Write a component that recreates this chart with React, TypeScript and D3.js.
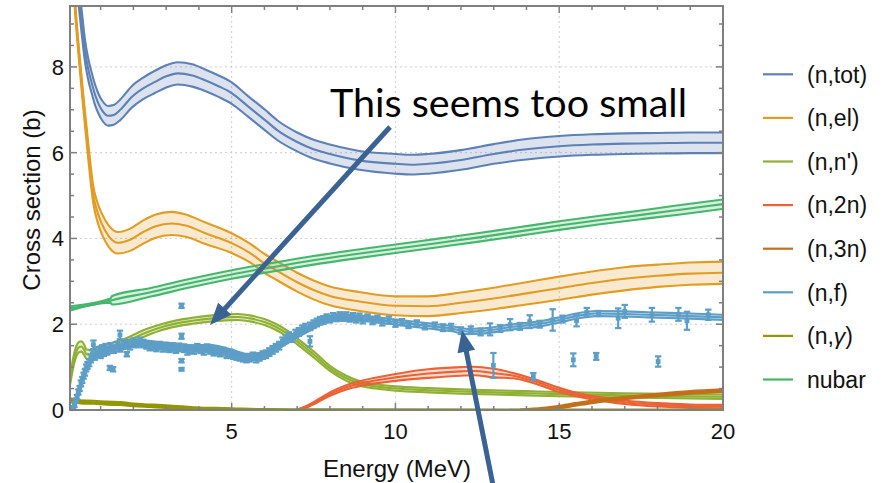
import React from 'react';
import * as d3 from 'd3';

// ---- evaluated cross sections (MeV, barns) ----
const totE = [0.07, 0.2, 0.3, 0.37, 0.45, 0.52, 0.62, 0.73, 0.83, 0.93, 1.05, 1.23, 1.4, 1.6, 1.95, 2.3, 2.66, 3.0, 3.36, 3.8, 4.19, 4.6, 5.0, 5.5, 6.02, 6.4, 7.0, 7.5, 8.0, 8.9, 10.0, 10.5, 11.0, 12.0, 13.0, 14.0, 15.0, 16.0, 17.0, 18.0, 19.0, 20.0];
const totXS = [13.0, 11.0, 10.0, 9.42, 8.85, 8.39, 7.95, 7.62, 7.35, 7.15, 6.98, 6.86, 6.88, 7.0, 7.3, 7.5, 7.65, 7.78, 7.85, 7.8, 7.69, 7.55, 7.39, 7.08, 6.76, 6.52, 6.25, 6.08, 5.97, 5.82, 5.74, 5.72, 5.74, 5.83, 5.97, 6.08, 6.15, 6.19, 6.21, 6.22, 6.23, 6.23];
const totUnc = [0.3, 0.3, 0.3, 0.28, 0.27, 0.26, 0.25, 0.24, 0.24, 0.23, 0.23, 0.23, 0.23, 0.24, 0.25, 0.25, 0.26, 0.26, 0.26, 0.26, 0.25, 0.25, 0.25, 0.24, 0.24, 0.23, 0.22, 0.22, 0.22, 0.22, 0.23, 0.23, 0.23, 0.23, 0.23, 0.24, 0.24, 0.24, 0.24, 0.24, 0.24, 0.24];

const elE = [0.07, 0.15, 0.22, 0.35, 0.47, 0.62, 0.78, 0.9, 1.03, 1.25, 1.53, 1.9, 2.3, 2.66, 3.17, 3.6, 4.2, 5.0, 5.56, 6.0, 6.4, 7.0, 7.5, 8.0, 8.9, 10.0, 11.0, 12.0, 13.0, 14.0, 15.0, 16.0, 17.0, 18.0, 19.0, 20.0];
const elXS = [12.5, 10.3, 9.42, 8.2, 7.2, 6.06, 5.0, 4.62, 4.35, 4.05, 3.9, 3.97, 4.15, 4.28, 4.35, 4.3, 4.12, 3.89, 3.66, 3.42, 3.24, 2.98, 2.8, 2.66, 2.53, 2.43, 2.42, 2.5, 2.6, 2.72, 2.84, 2.96, 3.06, 3.13, 3.18, 3.2];
const elUnc = [0.12, 0.12, 0.13, 0.14, 0.16, 0.18, 0.2, 0.22, 0.24, 0.25, 0.25, 0.26, 0.27, 0.27, 0.27, 0.26, 0.25, 0.23, 0.22, 0.22, 0.22, 0.22, 0.22, 0.22, 0.22, 0.22, 0.23, 0.24, 0.25, 0.26, 0.27, 0.27, 0.27, 0.26, 0.26, 0.26];

const nnpE = [0.07, 0.15, 0.25, 0.35, 0.42, 0.5, 0.57, 0.68, 0.8, 0.98, 1.4, 1.8, 2.3, 2.8, 3.32, 3.8, 4.34, 4.8, 5.2, 5.6, 6.0, 6.37, 6.7, 7.0, 7.5, 8.0, 8.5, 9.0, 9.5, 10.0, 11.0, 12.0, 13.0, 14.0, 15.0, 17.0, 20.0];
const nnpXS = [0.7, 1.05, 1.35, 1.47, 1.48, 1.4, 1.3, 1.3, 1.35, 1.4, 1.5, 1.6, 1.78, 1.92, 2.02, 2.08, 2.13, 2.16, 2.17, 2.13, 2.05, 1.93, 1.78, 1.6, 1.3, 0.97, 0.74, 0.6, 0.54, 0.5, 0.46, 0.43, 0.41, 0.39, 0.37, 0.34, 0.31];
const nnpUnc = [0.1, 0.11, 0.12, 0.12, 0.12, 0.12, 0.11, 0.1, 0.1, 0.09, 0.08, 0.08, 0.08, 0.07, 0.07, 0.07, 0.07, 0.07, 0.07, 0.07, 0.07, 0.07, 0.07, 0.07, 0.07, 0.06, 0.06, 0.05, 0.05, 0.05, 0.05, 0.05, 0.05, 0.05, 0.05, 0.05, 0.05];

const n2nE = [7.0, 7.3, 7.6, 8.0, 8.5, 9.0, 10.0, 11.0, 12.0, 12.4, 13.0, 13.6, 14.2, 15.0, 15.7, 16.5, 17.0, 18.0, 19.0, 20.0];
const n2nXS = [0.0, 0.08, 0.2, 0.37, 0.53, 0.63, 0.76, 0.85, 0.9, 0.91, 0.86, 0.8, 0.68, 0.47, 0.33, 0.23, 0.18, 0.12, 0.09, 0.08];
const n2nUnc = [0.01, 0.02, 0.03, 0.04, 0.05, 0.06, 0.08, 0.1, 0.1, 0.1, 0.1, 0.06, 0.05, 0.05, 0.04, 0.04, 0.04, 0.04, 0.04, 0.04];

const n3nE = [13.8, 14.5, 15.0, 15.5, 16.0, 16.5, 17.0, 18.0, 19.0, 20.0];
const n3nXS = [0.0, 0.03, 0.07, 0.13, 0.19, 0.24, 0.28, 0.35, 0.41, 0.45];
const n3nUnc = [0.01, 0.02, 0.03, 0.03, 0.03, 0.03, 0.03, 0.03, 0.03, 0.03];

const nfE = [0.07, 0.2, 0.35, 0.5, 0.65, 0.8, 1.0, 1.4, 1.8, 2.3, 2.8, 3.3, 3.83, 4.34, 4.85, 5.2, 5.5, 6.0, 6.5, 7.0, 7.4, 7.8, 8.3, 8.9, 10.0, 11.0, 11.7, 12.2, 12.6, 13.6, 14.5, 15.0, 15.6, 16.1, 17.0, 17.7, 19.0, 20.0];
const nfXS = [0.0, 0.05, 0.45, 0.85, 1.1, 1.25, 1.32, 1.4, 1.5, 1.56, 1.52, 1.48, 1.45, 1.46, 1.38, 1.3, 1.24, 1.3, 1.52, 1.75, 1.92, 2.08, 2.15, 2.14, 2.05, 1.96, 1.9, 1.83, 1.84, 1.94, 2.02, 2.1, 2.2, 2.25, 2.24, 2.22, 2.19, 2.16];
const nfUnc = [0.02, 0.03, 0.05, 0.06, 0.06, 0.06, 0.06, 0.06, 0.06, 0.06, 0.06, 0.06, 0.06, 0.06, 0.06, 0.06, 0.06, 0.06, 0.06, 0.06, 0.06, 0.06, 0.06, 0.06, 0.06, 0.06, 0.06, 0.06, 0.06, 0.06, 0.06, 0.06, 0.06, 0.06, 0.06, 0.06, 0.06, 0.06];

const ngE = [0.07, 0.2, 0.4, 0.8, 1.2, 1.6, 2.0, 2.5, 3.0, 3.5, 4.0, 4.5, 5.0, 6.0, 8.0, 12.0, 20.0];
const ngXS = [0.24, 0.21, 0.19, 0.18, 0.16, 0.15, 0.12, 0.1, 0.08, 0.06, 0.04, 0.03, 0.02, 0.01, 0.005, 0.002, 0.001];
const ngUnc = [0.035, 0.035, 0.035, 0.035, 0.035, 0.035, 0.03, 0.03, 0.03, 0.025, 0.02, 0.02, 0.02, 0.01, 0.01, 0.01, 0.01];

const nubarE = [0.07, 1.3, 1.35, 2.5, 3.75, 5.0, 6.25, 7.5, 8.75, 10.0, 11.25, 12.5, 13.75, 15.0, 16.25, 17.5, 18.7, 20.0];
const nubarVal = [2.37, 2.55, 2.56, 2.74, 2.96, 3.16, 3.33, 3.49, 3.63, 3.76, 3.89, 4.02, 4.16, 4.3, 4.43, 4.55, 4.67, 4.8];
const nubarUnc = [0.05, 0.05, 0.1, 0.1, 0.1, 0.1, 0.1, 0.1, 0.1, 0.1, 0.1, 0.1, 0.1, 0.1, 0.1, 0.1, 0.11, 0.11];

// ---- measured fission cross section: [energy, value, error] ----
const nfMeasured: [number, number, number][] = [
  [0.12, 0.0, 0.04], [0.16, 0.05, 0.04], [0.2, 0.12, 0.05], [0.24, 0.22, 0.05], [0.28, 0.3, 0.05],
  [0.32, 0.42, 0.06], [0.36, 0.5, 0.06], [0.4, 0.62, 0.07], [0.44, 0.7, 0.07], [0.48, 0.8, 0.07],
  [0.52, 0.88, 0.08], [0.56, 0.98, 0.08], [0.6, 1.04, 0.08], [0.65, 1.1, 0.08], [0.7, 1.2, 0.09],
  [0.75, 1.3, 0.09], [0.78, 1.52, 0.1], [0.82, 1.25, 0.08], [0.88, 1.32, 0.09], [0.95, 1.38, 0.09],
  [1.0, 1.3, 0.09], [1.05, 1.42, 0.09], [1.1, 1.35, 0.09], [1.15, 1.45, 0.09], [1.2, 1.38, 0.09],
  [1.28, 0.98, 0.05], [1.3, 1.47, 0.09], [1.38, 0.95, 0.05], [1.4, 1.42, 0.09], [1.5, 1.5, 0.09],
  [1.59, 1.75, 0.1], [1.6, 1.45, 0.09], [1.7, 1.52, 0.09], [1.8, 1.3, 0.05], [1.8, 1.55, 0.09],
  [1.9, 1.5, 0.09], [2.0, 1.58, 0.09], [2.1, 1.55, 0.09], [2.2, 1.6, 0.09], [2.3, 1.55, 0.09],
  [2.4, 1.52, 0.09], [2.5, 1.48, 0.09], [2.6, 1.5, 0.09], [2.7, 1.46, 0.09], [2.8, 1.5, 0.09],
  [2.9, 1.45, 0.09], [3.0, 1.48, 0.09], [3.1, 1.44, 0.09], [3.2, 1.47, 0.09], [3.3, 1.42, 0.09],
  [3.4, 1.46, 0.09], [3.47, 2.43, 0.05], [3.47, 1.72, 0.06], [3.47, 1.15, 0.04], [3.47, 0.95, 0.03],
  [3.55, 1.44, 0.09], [3.65, 1.38, 0.09], [3.75, 1.42, 0.09], [3.85, 1.4, 0.09], [3.95, 1.45, 0.09],
  [4.05, 1.42, 0.09], [4.15, 1.38, 0.09], [4.25, 1.44, 0.09], [4.35, 1.4, 0.09], [4.45, 1.36, 0.09],
  [4.55, 1.38, 0.09], [4.65, 1.34, 0.09], [4.75, 1.36, 0.09], [4.85, 1.3, 0.09], [4.95, 1.32, 0.09],
  [5.05, 1.28, 0.09], [5.15, 1.26, 0.09], [5.25, 1.24, 0.09], [5.35, 1.22, 0.09], [5.45, 1.2, 0.09],
  [5.55, 1.22, 0.09], [5.65, 1.25, 0.09], [5.75, 1.2, 0.09], [5.85, 1.24, 0.09], [5.95, 1.28, 0.09],
  [6.05, 1.3, 0.09], [6.15, 1.35, 0.09], [6.25, 1.4, 0.09], [6.35, 1.45, 0.09], [6.45, 1.5, 0.09],
  [6.55, 1.6, 0.09], [6.65, 1.65, 0.09], [6.75, 1.72, 0.09], [6.85, 1.68, 0.09], [6.95, 1.78, 0.09],
  [7.05, 1.82, 0.09], [7.15, 1.88, 0.09], [7.25, 1.92, 0.09], [7.39, 1.6, 0.12], [7.4, 1.95, 0.09],
  [7.5, 2.0, 0.09], [7.6, 2.04, 0.09], [7.7, 2.08, 0.09], [7.8, 2.1, 0.09], [7.9, 2.14, 0.09],
  [8.0, 2.12, 0.08], [8.1, 2.18, 0.08], [8.2, 2.15, 0.08], [8.3, 2.2, 0.08], [8.4, 2.16, 0.08],
  [8.5, 2.2, 0.08], [8.6, 2.14, 0.08], [8.7, 2.18, 0.08], [8.8, 2.12, 0.08], [8.9, 2.17, 0.08],
  [9.0, 2.1, 0.08], [9.15, 2.15, 0.08], [9.3, 2.08, 0.08], [9.45, 2.12, 0.08], [9.6, 2.05, 0.08],
  [9.8, 2.1, 0.08], [10.0, 2.02, 0.08], [10.2, 2.05, 0.07], [10.4, 1.98, 0.07], [10.65, 2.02, 0.07],
  [10.9, 1.95, 0.07], [11.2, 1.97, 0.07], [11.45, 1.92, 0.08], [11.7, 1.93, 0.08], [12.0, 1.85, 0.08],
  [12.3, 1.87, 0.08], [12.6, 1.82, 0.08], [12.89, 1.88, 0.14], [12.99, 1.04, 0.29], [13.2, 1.9, 0.08],
  [13.5, 1.99, 0.13], [13.8, 1.95, 0.08], [14.1, 2.06, 0.15], [14.21, 0.78, 0.08], [14.4, 2.0, 0.08],
  [14.8, 2.1, 0.25], [15.1, 2.12, 0.08], [15.43, 1.17, 0.15], [15.53, 2.08, 0.13], [15.84, 2.28, 0.1],
  [16.13, 1.25, 0.08], [16.2, 2.25, 0.06], [16.8, 2.14, 0.23], [17.0, 2.3, 0.15], [17.83, 2.22, 0.16],
  [18.02, 1.13, 0.12], [18.64, 2.23, 0.15], [18.9, 2.08, 0.21], [19.55, 2.22, 0.12],
];

const legendLabels = ['(n,tot)', '(n,el)', "(n,n')", '(n,2n)', '(n,3n)', '(n,f)', '(n,γ)', 'nubar'];
const legendColors = ['#5E81B5', '#E19C24', '#8FB032', '#EB6235', '#C56E1A', '#5D9EC7', '#929600', '#47B66D'];
const xMajorTicks = [5, 10, 15, 20];
const yMajorTicks = [0, 2, 4, 6, 8];

const W = 887;
const H = 483;
const plot = { left: 70, right: 723, top: 6, bottom: 410 };

const x = d3.scaleLinear().domain([0.065, 20]).range([plot.left, plot.right]);
const y = d3.scaleLinear().domain([0, 9.42]).range([plot.bottom, plot.top]);

const labelFont = "'Liberation Sans', Arimo, Arial, Helvetica, sans-serif";

type BandPt = { e: number; c: number; lo: number; hi: number };

function Band({ E, v, u, color }: { E: number[]; v: number[]; u: number[]; color: string }) {
  const pts: BandPt[] = E.map((e, i) => ({ e, c: v[i], lo: v[i] - u[i], hi: v[i] + u[i] }));
  const area = d3
    .area<BandPt>()
    .x((d) => x(d.e))
    .y0((d) => y(d.lo))
    .y1((d) => y(d.hi))
    .curve(d3.curveMonotoneX);
  const mk = (k: 'c' | 'lo' | 'hi') =>
    d3
      .line<BandPt>()
      .x((d) => x(d.e))
      .y((d) => y(d[k]))
      .curve(d3.curveMonotoneX)(pts) || '';
  return (
    <g>
      <path d={area(pts) || ''} fill={color} fillOpacity={0.22} stroke="none" />
      {(['lo', 'c', 'hi'] as const).map((k) => (
        <path key={k} d={mk(k)} fill="none" stroke={color} strokeWidth={2.1} strokeLinejoin="round" />
      ))}
    </g>
  );
}

function Arrow({ x1, y1, x2, y2 }: { x1: number; y1: number; x2: number; y2: number }) {
  const color = '#3A6394';
  const dx = x2 - x1;
  const dy = y2 - y1;
  const len = Math.hypot(dx, dy);
  const ux = dx / len;
  const uy = dy / len;
  const headLen = 22;
  const headHalf = 9;
  const bx = x2 - ux * headLen;
  const by = y2 - uy * headLen;
  const p1 = [bx - uy * headHalf, by + ux * headHalf];
  const p2 = [bx + uy * headHalf, by - ux * headHalf];
  return (
    <g>
      <line x1={x1} y1={y1} x2={bx + ux * 2} y2={by + uy * 2} stroke={color} strokeWidth={5} />
      <polygon points={`${x2},${y2} ${p1[0]},${p1[1]} ${p2[0]},${p2[1]}`} fill={color} />
    </g>
  );
}

export default function App() {
  const frameColor = '#7f7f7f';
  const xMinor = d3.range(1, 20).filter((t) => t % 5 !== 0);
  const yMinor = d3.range(0.5, 9.5, 0.5).filter((t) => t % 2 !== 0);
  const fColor = legendColors[5];

  return (
    <svg
      width={W}
      height={H}
      viewBox={`0 0 ${W} ${H}`}
      style={{ position: 'absolute', left: 0, top: 0, background: '#fff', fontFamily: labelFont }}
    >
      <defs>
        <clipPath id="plotClip">
          <rect x={plot.left} y={plot.top} width={plot.right - plot.left} height={plot.bottom - plot.top} />
        </clipPath>
      </defs>
      <rect x={0} y={0} width={W} height={H} fill="#fff" />

      {/* grid */}
      <g stroke="#cccccc" strokeWidth={1} strokeDasharray="2 3">
        {[5, 10, 15].map((t) => (
          <line key={t} x1={x(t)} x2={x(t)} y1={plot.top} y2={plot.bottom} />
        ))}
        {[2, 4, 6, 8].map((t) => (
          <line key={t} x1={plot.left} x2={plot.right} y1={y(t)} y2={y(t)} />
        ))}
      </g>

      {/* curves */}
      <g clipPath="url(#plotClip)">
        <Band E={totE} v={totXS} u={totUnc} color={legendColors[0]} />
        <Band E={elE} v={elXS} u={elUnc} color={legendColors[1]} />
        <Band E={nnpE} v={nnpXS} u={nnpUnc} color={legendColors[2]} />
        <Band E={n2nE} v={n2nXS} u={n2nUnc} color={legendColors[3]} />
        <Band E={n3nE} v={n3nXS} u={n3nUnc} color={legendColors[4]} />
        <Band E={nfE} v={nfXS} u={nfUnc} color={fColor} />
        <Band E={ngE} v={ngXS} u={ngUnc} color={legendColors[6]} />
        <Band E={nubarE} v={nubarVal} u={nubarUnc} color={legendColors[7]} />
        <g stroke={fColor} strokeWidth={2.2} fill={fColor}>
          {nfMeasured.map(([e, v, err], i) => {
            const cx = x(e);
            const yt = y(v + err);
            const yb = y(v - err);
            return (
              <g key={i}>
                <line x1={cx} x2={cx} y1={yt} y2={yb} />
                <line x1={cx - 3.2} x2={cx + 3.2} y1={yt} y2={yt} />
                <line x1={cx - 3.2} x2={cx + 3.2} y1={yb} y2={yb} />
                <rect x={cx - 2.4} y={y(v) - 2.4} width={4.8} height={4.8} stroke="none" />
              </g>
            );
          })}
        </g>
      </g>

      {/* frame and ticks */}
      <rect
        x={plot.left}
        y={plot.top}
        width={plot.right - plot.left}
        height={plot.bottom - plot.top}
        fill="none"
        stroke={frameColor}
        strokeWidth={2}
      />
      <g stroke={frameColor} strokeWidth={1.5}>
        {xMajorTicks.map((t) => (
          <g key={'xM' + t}>
            <line x1={x(t)} x2={x(t)} y1={plot.bottom} y2={plot.bottom - 7} />
            <line x1={x(t)} x2={x(t)} y1={plot.top} y2={plot.top + 7} />
          </g>
        ))}
        {xMinor.map((t) => (
          <g key={'xm' + t}>
            <line x1={x(t)} x2={x(t)} y1={plot.bottom} y2={plot.bottom - 4} />
            <line x1={x(t)} x2={x(t)} y1={plot.top} y2={plot.top + 4} />
          </g>
        ))}
        {yMajorTicks.map((t) => (
          <g key={'yM' + t}>
            <line x1={plot.left} x2={plot.left + 7} y1={y(t)} y2={y(t)} />
            <line x1={plot.right} x2={plot.right - 7} y1={y(t)} y2={y(t)} />
          </g>
        ))}
        {yMinor.map((t) => (
          <g key={'ym' + t}>
            <line x1={plot.left} x2={plot.left + 4} y1={y(t)} y2={y(t)} />
            <line x1={plot.right} x2={plot.right - 4} y1={y(t)} y2={y(t)} />
          </g>
        ))}
      </g>

      {/* tick labels */}
      <g fontSize={22} fill="#111" fontFamily={labelFont}>
        {xMajorTicks.map((t) => (
          <text key={'xl' + t} x={x(t)} y={439} textAnchor="middle">
            {t}
          </text>
        ))}
        {yMajorTicks.map((t) => (
          <text key={'yl' + t} x={64} y={y(t)} dy="0.36em" textAnchor="end">
            {t}
          </text>
        ))}
      </g>

      {/* axis titles */}
      <text x={397} y={477} fontSize={24} textAnchor="middle" fill="#111" fontFamily={labelFont}>
        Energy (MeV)
      </text>
      <text
        transform="translate(40,200) rotate(-90)"
        fontSize={24}
        textAnchor="middle"
        fill="#111"
        fontFamily={labelFont}
      >
        Cross section (b)
      </text>

      {/* legend */}
      <g fontFamily={labelFont}>
        {legendLabels.map((lab, i) => {
          const ly = 74.3 + i * 43.6;
          return (
            <g key={lab}>
              <line x1={763} x2={793} y1={ly} y2={ly} stroke={legendColors[i]} strokeWidth={2.2} />
              <text x={807} y={ly} dy="0.36em" fontSize={23} fill="#111">
                {lab === '(n,γ)' ? (
                  <>
                    (n,<tspan fontStyle="italic">γ</tspan>)
                  </>
                ) : (
                  lab
                )}
              </text>
            </g>
          );
        })}
      </g>

      {/* annotations */}
      <text
        x={330}
        y={117}
        fontSize={38}
        fontFamily="Lato, 'Open Sans', sans-serif"
        fill="#000"
        textLength={357}
        lengthAdjust="spacingAndGlyphs"
      >
        This seems too small
      </text>
      <Arrow x1={390} y1={127} x2={210} y2={325} />
      <Arrow x1={494} y1={490} x2={462} y2={330} />
    </svg>
  );
}
